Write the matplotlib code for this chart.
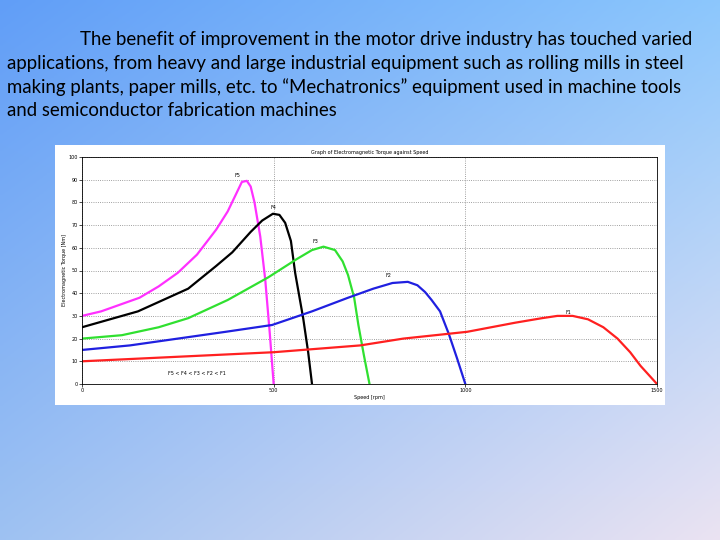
import numpy as np
import matplotlib
matplotlib.use('Agg')
import matplotlib.pyplot as plt

# curves: speed [rpm], torque [Nm]
f5_speed = [0, 50, 100, 150, 200, 250, 300, 350, 380, 400, 417, 430, 440, 450, 465, 478, 490, 500]
f5_torque = [30, 32, 35, 38, 43, 49, 57, 68, 76, 83, 89, 89.5, 87, 80, 65, 46, 22, 0]
f4_speed = [0, 146, 277, 350, 392, 440, 470, 498, 515, 530, 545, 556, 577, 590, 600]
f4_torque = [25, 32, 42, 52, 58, 67, 72, 75, 74.5, 71, 63, 49, 29, 14, 0]
f3_speed = [0, 104, 200, 277, 380, 486, 560, 600, 630, 660, 680, 694, 710, 721, 735, 750]
f3_torque = [20, 21.5, 25, 29, 37, 47, 55, 59, 60.5, 59, 54, 48, 38, 26, 13, 0]
f2_speed = [0, 125, 250, 375, 496, 600, 694, 760, 810, 850, 875, 895, 912, 934, 957, 979, 1000]
f2_torque = [15, 17, 20, 23, 26, 32, 38, 42, 44.5, 45, 43.5, 40.5, 37, 32, 22, 11, 0]
f1_speed = [0, 250, 500, 726, 838, 1005, 1130, 1200, 1240, 1280, 1320, 1360, 1397, 1430, 1457, 1500]
f1_torque = [10, 12, 14, 17, 20, 23, 27, 29, 30, 30, 28.5, 25, 20, 14, 8, 0]

curves = [('F5', f5_speed, f5_torque, '#ff30ff', (405, 91)),
          ('F4', f4_speed, f4_torque, 'black', (500, 77)),
          ('F3', f3_speed, f3_torque, '#30e030', (610, 62)),
          ('F2', f2_speed, f2_torque, '#2020e0', (800, 47)),
          ('F1', f1_speed, f1_torque, '#ff2020', (1270, 31))]

fig = plt.figure(figsize=(7.2, 5.4), dpi=100)

# gradient background of the slide
bg = fig.add_axes([0, 0, 1, 1])
yy, xx = np.mgrid[0:1:200j, 0:1:200j]
tl = np.array([0.38, 0.62, 0.97]); tr = np.array([0.55, 0.78, 0.99])
bl = np.array([0.62, 0.76, 0.95]); br = np.array([0.92, 0.89, 0.95])
img = (tl * ((1 - xx) * (1 - yy))[..., None] + tr * (xx * (1 - yy))[..., None]
       + bl * ((1 - xx) * yy)[..., None] + br * (xx * yy)[..., None])
bg.imshow(img, aspect='auto', extent=[0, 1, 0, 1], origin='upper')
bg.axis('off')

lines = ["The benefit of improvement in the motor drive industry has touched varied",
         "applications, from heavy and large industrial equipment such as rolling mills in steel",
         "making plants, paper mills, etc. to \u201cMechatronics\u201d equipment used in machine tools",
         "and semiconductor fabrication machines"]
for i, t in enumerate(lines):
    x0 = 80 if i == 0 else 7
    fig.text(x0 / 720, 1 - (39 + 24 * i) / 540, t, fontsize=13.4, family='Lato',
             va='center', ha='left', color='black')

# white panel of the embedded chart
panel = fig.add_axes([55 / 720, 1 - 405 / 540, 610 / 720, 260 / 540])
panel.set_facecolor('white')
panel.set_xticks([]); panel.set_yticks([])
for s in panel.spines.values():
    s.set_visible(False)

ax = fig.add_axes([82 / 720, 1 - 384 / 540, 575 / 720, 227 / 540])
for name, sp, tq, c, pos in curves:
    ax.plot(sp, tq, color=c, lw=1.6)
    ax.text(pos[0], pos[1], name, fontsize=3.5, ha='center')
ax.text(300, 4, 'F5 < F4 < F3 < F2 < F1', fontsize=3.5, ha='center')
ax.set_xlim(0, 1500)
ax.set_ylim(0, 100)
ax.set_xticks([0, 500, 1000, 1500])
ax.set_yticks(range(0, 101, 10))
ax.tick_params(labelsize=3.5, length=2, width=0.5, pad=1)
ax.grid(True, linestyle=':', color='gray', lw=0.6)
ax.set_title('Graph of Electromagnetic Torque against Speed', fontsize=3.5, pad=2)
ax.set_xlabel('Speed [rpm]', fontsize=3.5, labelpad=1)
ax.set_ylabel('Electromagnetic Torque [Nm]', fontsize=3.5, labelpad=1)
for s in ax.spines.values():
    s.set_linewidth(0.6)

fig.savefig('out.png', dpi=100)
